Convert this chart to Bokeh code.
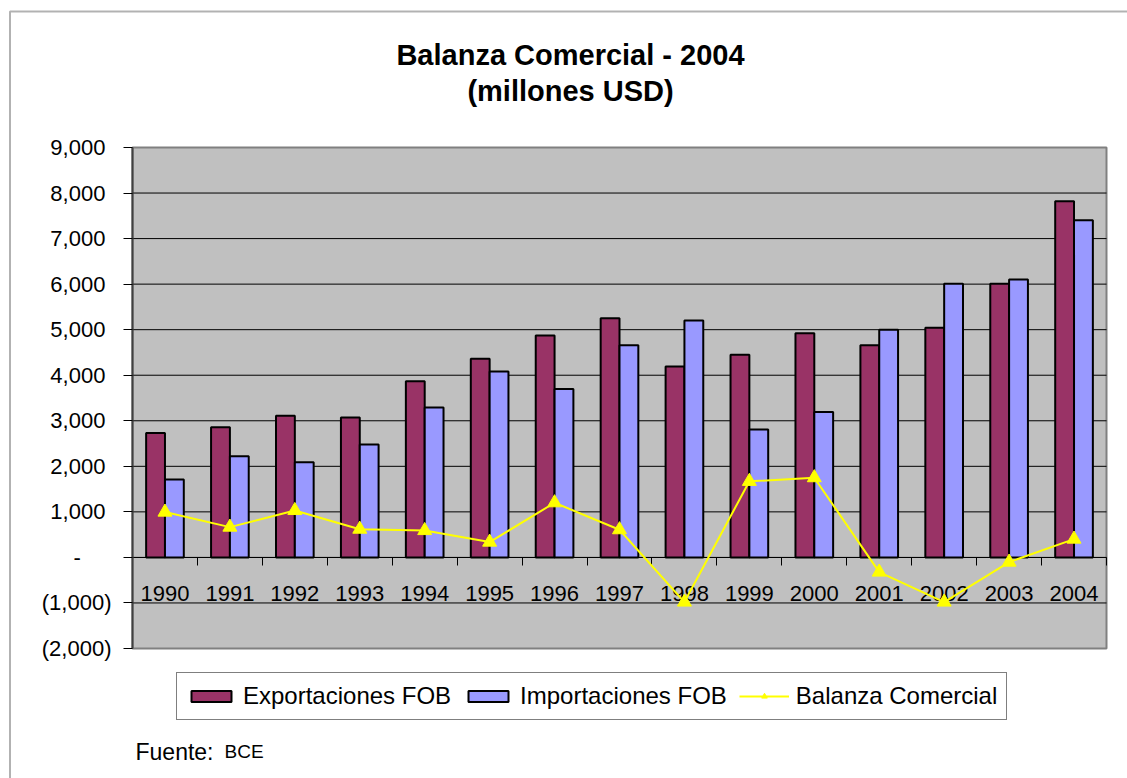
from bokeh.plotting import figure
from bokeh.models import (ColumnDataSource, Range1d, LinearAxis, FixedTicker, Label,
                          Legend, LegendItem, BoxAnnotation)
from bokeh.transform import dodge
from bokeh.embed import file_html
from bokeh.resources import INLINE

# ---------------- data ----------------
years = ["1990", "1991", "1992", "1993", "1994", "1995", "1996", "1997",
         "1998", "1999", "2000", "2001", "2002", "2003", "2004"]
exportaciones = [2730, 2860, 3110, 3070, 3870, 4360, 4870, 5250,
                 4190, 4450, 4920, 4660, 5040, 6010, 7820]
importaciones = [1710, 2220, 2090, 2480, 3290, 4080, 3700, 4660,
                 5200, 2810, 3190, 5000, 6010, 6100, 7400]
balanza = [995, 665, 1030, 620, 590, 336, 1200, 608,
           -980, 1670, 1750, -322, -980, -103, 402]
y_ticks = [-2000, -1000, 0, 1000, 2000, 3000, 4000, 5000, 6000, 7000, 8000, 9000]
y_tick_labels = ["(2,000)", "(1,000)", "-\u2007\u2007\u2008", "1,000\u2008", "2,000\u2008",
                 "3,000\u2008", "4,000\u2008", "5,000\u2008", "6,000\u2008",
                 "7,000\u2008", "8,000\u2008", "9,000\u2008"]
title_lines = ["Balanza Comercial - 2004", "(millones USD)"]
series_names = ["Exportaciones FOB", "Importaciones FOB", "Balanza Comercial"]
source_note = ["Fuente:", "BCE"]

# ---------------- layout (pixels) ----------------
FONT = "Liberation Sans"
W, H = 1127, 778
PL, PR, PT, PB = 132, 1106, 147, 648       # plot-area box on the canvas

n = len(years)
ymin, ymax = y_ticks[0], y_ticks[-1]
xpu = (PR - PL) / n
ypu = (PB - PT) / (ymax - ymin)
x_range = Range1d(-PL / xpu, n + (W - PR) / xpu)
y_range = Range1d(ymin - (H - PB) / ypu, ymax + PT / ypu)

pos = [i + 0.5 for i in range(n)]
src = ColumnDataSource(dict(pos=pos, year=years, exp=exportaciones,
                            imp=importaciones, bal=balanza))

p = figure(width=W, height=H, x_range=x_range, y_range=y_range,
           output_backend="svg", toolbar_location=None,
           x_axis_type=None, y_axis_type=None, min_border=0,
           background_fill_color="white", border_fill_color="white",
           outline_line_color=None)
p.title.visible = False

# plot-area background and inner grid lines
p.quad(left=0, right=n, bottom=ymin, top=ymax, fill_color="#C0C0C0",
       line_color="#808080", line_width=2)
p.segment(x0=0, x1=n, y0=y_ticks[1:-1], y1=y_ticks[1:-1],
          line_color="black", line_width=1)

# bars
w = 0.29
r_exp = p.vbar(x=dodge("pos", -w / 2), top="exp", bottom=0, width=w, source=src,
               fill_color="#993366", line_color="black", line_width=2)
r_imp = p.vbar(x=dodge("pos", w / 2), top="imp", bottom=0, width=w, source=src,
               fill_color="#9999FF", line_color="black", line_width=2)

# y axis at x = 0
yax = LinearAxis(fixed_location=0, bounds=(ymin, ymax),
                 ticker=FixedTicker(ticks=y_ticks),
                 major_label_overrides={t: l for t, l in zip(y_ticks, y_tick_labels)},
                 major_label_text_font=FONT, major_label_text_font_size="22px",
                 major_label_text_color="black",
                 major_tick_out=9, major_tick_in=0, major_tick_line_color="black",
                 minor_tick_line_color=None,
                 axis_line_color="#404040", axis_line_width=2,
                 major_label_standoff=12)
p.add_layout(yax, "left")

# x axis at y = 0 : labels at category centres, tick marks at boundaries
xax = LinearAxis(fixed_location=0, bounds=(0, n),
                 ticker=FixedTicker(ticks=pos, minor_ticks=list(range(n + 1))),
                 major_label_overrides={x: y for x, y in zip(pos, years)},
                 major_tick_line_color=None,
                 minor_tick_out=8, minor_tick_in=0, minor_tick_line_color="black",
                 axis_line_color="black", axis_line_width=1,
                 major_label_standoff=21,
                 major_label_text_font=FONT, major_label_text_font_size="22px",
                 major_label_text_color="black")
p.add_layout(xax, "below")

# balance line
r_line = p.line("pos", "bal", source=src, line_color="#FFFF00", line_width=2,
                level="overlay")
r_tri = p.scatter("pos", "bal", source=src, marker="triangle", size=14,
                  fill_color="#FFFF00", line_color="#FFFF00", level="overlay")

legend = Legend(items=[LegendItem(label=series_names[0], renderers=[r_exp]),
                       LegendItem(label=series_names[1], renderers=[r_imp]),
                       LegendItem(label=series_names[2], renderers=[r_line, r_tri])],
                orientation="horizontal", location=(176, H - 720),
                border_line_color="black", border_line_width=1,
                background_fill_color="white", background_fill_alpha=1,
                label_text_font=FONT, label_text_font_size="24px",
                label_text_color="black",
                glyph_width=50, glyph_height=14, label_standoff=7,
                spacing=12, padding=9, margin=0)
p.add_layout(legend)

# titles and source note (screen units: x from left, y up from bottom)
p.add_layout(Label(x=570, y=H - 54, x_units="screen", y_units="screen",
                   text=title_lines[0], text_font=FONT, text_font_style="bold",
                   text_font_size="29px", text_align="center", text_color="black",
                   text_baseline="alphabetic"))
p.add_layout(Label(x=570, y=H - 90, x_units="screen", y_units="screen",
                   text=title_lines[1], text_font=FONT, text_font_style="bold",
                   text_font_size="29px", text_align="center", text_color="black",
                   text_baseline="alphabetic"))
p.add_layout(Label(x=135, y=H - 751, x_units="screen", y_units="screen",
                   text=source_note[0], text_font=FONT, text_font_size="23px",
                   text_color="black", text_baseline="alphabetic"))
p.add_layout(Label(x=224, y=H - 751, x_units="screen", y_units="screen",
                   text=source_note[1], text_font=FONT, text_font_size="19px",
                   text_color="black", text_baseline="alphabetic"))

# outer chart border (only its left and top edges fall inside the picture)
p.add_layout(BoxAnnotation(left=9.5, right=W + 50, top=H - 11, bottom=-50,
                           left_units="screen", right_units="screen",
                           top_units="screen", bottom_units="screen",
                           fill_alpha=0, line_color="black", line_width=2))

open("out.html", "w").write(file_html(p, INLINE))
